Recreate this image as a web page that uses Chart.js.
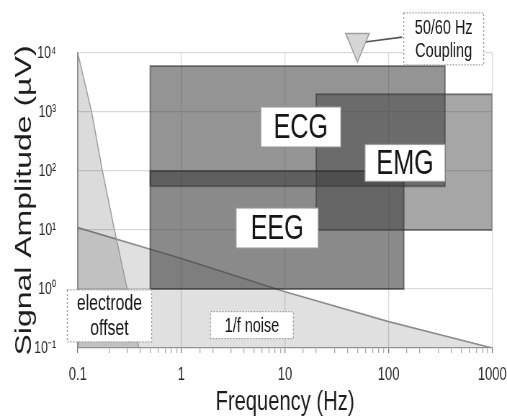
<!DOCTYPE html>
<html><head><meta charset="utf-8">
<script src="https://cdn.jsdelivr.net/npm/chart.js@4.4.1/dist/chart.umd.min.js"></script>
<style>
html,body{margin:0;padding:0;background:#fff;overflow:hidden;width:507px;height:416px;}
#wrap{position:absolute;left:0;top:0;width:704px;height:416px;transform:scaleX(0.72017);transform-origin:0 0;}
canvas{display:block;}
</style></head><body>
<div id="wrap"><canvas id="chart" width="704" height="416"></canvas></div>
<script>
// ---------- data ----------
const xTickLabels = ['0.1', '1', '10', '100', '1000'];
const yTickLabels = ['10⁻¹', '10⁰', '10¹', '10²', '10³', '10⁴'];

// signal bands: frequency range (Hz) and amplitude range (µV)
const ecgFreq = [0.5, 350];
const ecgAmp  = [55, 6000];
const emgFreq = [20, 1000];
const emgAmp  = [10, 2000];
const eegFreq = [0.5, 140];
const eegAmp  = [1, 100];

// electrode offset boundary
const offsetFreq = [0.1, 0.136, 0.173, 0.226, 0.30, 0.39];
const offsetAmp  = [10000, 1000, 100, 10, 1, 0.1];

// 1/f noise boundary
const noiseFreq = [0.1, 1, 10, 100, 1000];
const noiseAmp  = [11, 3.3, 0.9, 0.28, 0.1];

// 50/60 Hz coupling marker and its pointer
const couplingFreq = [50, 135];
const couplingAmp  = [14800, 18600];

// region labels (anchors in data units)
const labelTexts = [['ECG'], ['EMG'], ['EEG'], ['electrode', 'offset'], ['1/f noise'], ['50/60 Hz', 'Coupling']];
const labelFreq  = [14.2, 144, 8.4, 0.202, 4.8, 340];
const labelAmp   = [557, 137, 10.8, 0.35, 0.245, 17300];

// axis limits
const X_MIN = 0.1, X_MAX = 1000, Y_MIN = 0.1, Y_MAX = 10000;

// ---------- styles ----------
const FONT = "'Liberation Sans', Arial, sans-serif";
const labelStyle = [
  {size: 35, w: 111, h: 40, dash: [], border: 'rgba(150,150,150,0.8)', lh: 35},
  {size: 35, w: 111, h: 37, dash: [], border: 'rgba(150,150,150,0.8)', lh: 35},
  {size: 35, w: 114, h: 40, dash: [], border: 'rgba(150,150,150,0.8)', lh: 35},
  {size: 22, w: 117, h: 52, dash: [2, 2], border: '#9a9a9a', lh: 25},
  {size: 20, w: 115, h: 27, dash: [2, 2], border: '#9a9a9a', lh: 20},
  {size: 20, w: 111, h: 52, dash: [2, 2], border: '#9a9a9a', lh: 23}
];

const pts = (fs, as) => fs.map((f, i) => ({x: f, y: as[i]}));
const rect = (f, a) => [
  {x: f[0], y: a[0]}, {x: f[1], y: a[0]}, {x: f[1], y: a[1]}, {x: f[0], y: a[1]}, {x: f[0], y: a[0]}
];
const isMajor = v => { const e = Math.log10(v); return Math.abs(e - Math.round(e)) < 1e-6; };

const labelPlugin = {
  id: 'regionLabels',
  afterDatasetsDraw(chart) {
    const {ctx, scales: {x, y}} = chart;
    labelTexts.forEach((lines, i) => {
      const st = labelStyle[i];
      const cx = x.getPixelForValue(labelFreq[i]);
      const cy = y.getPixelForValue(labelAmp[i]);
      ctx.save();
      ctx.fillStyle = '#ffffff';
      ctx.fillRect(cx - st.w / 2, cy - st.h / 2, st.w, st.h);
      ctx.setLineDash(st.dash);
      ctx.strokeStyle = st.border;
      ctx.lineWidth = 1.3;
      ctx.strokeRect(cx - st.w / 2, cy - st.h / 2, st.w, st.h);
      ctx.setLineDash([]);
      ctx.fillStyle = '#161616';
      ctx.font = st.size + 'px ' + FONT;
      ctx.textAlign = 'center';
      ctx.textBaseline = 'middle';
      const n = lines.length;
      lines.forEach((t, j) => ctx.fillText(t, cx, cy + (j - (n - 1) / 2) * st.lh + 1));
      ctx.restore();
    });
  }
};

Chart.defaults.font.family = FONT;

new Chart(document.getElementById('chart'), {
  type: 'line',
  data: {
    datasets: [
      {label: '1/f noise', data: pts(noiseFreq, noiseAmp), fill: 'start',
       backgroundColor: 'rgba(0,0,0,0.12)', borderColor: '#8c8c8c', borderWidth: 1.6,
       pointRadius: 0, order: 7},
      {label: 'electrode offset', data: [...pts(offsetFreq, offsetAmp), {x: X_MIN, y: Y_MIN}], fill: 'shape',
       backgroundColor: 'rgba(0,0,0,0.14)', borderColor: '#9a9a9a', borderWidth: 1.4,
       pointRadius: 0, order: 6},
      {label: 'ECG', data: rect(ecgFreq, ecgAmp), fill: 'shape',
       backgroundColor: 'rgba(60,60,60,0.55)', borderColor: 'rgba(40,40,40,0.5)', borderWidth: 2,
       pointRadius: 0, order: 5},
      {label: 'EMG', data: rect(emgFreq, emgAmp), fill: 'shape',
       backgroundColor: 'rgba(60,60,60,0.46)', borderColor: 'rgba(40,40,40,0.5)', borderWidth: 2,
       pointRadius: 0, order: 4},
      {label: 'EEG', data: rect(eegFreq, eegAmp), fill: 'shape',
       backgroundColor: 'rgba(60,60,60,0.6)', borderColor: 'rgba(40,40,40,0.55)', borderWidth: 2,
       pointRadius: 0, order: 3},
      {label: 'pointer', data: pts(couplingFreq, couplingAmp), fill: false,
       borderColor: '#555', borderWidth: 1.6, pointRadius: [0, 4.5], pointStyle: 'triangle',
       rotation: 83, pointBackgroundColor: '#555', pointBorderColor: '#555', clip: false, order: 2},
      {label: '50/60 Hz', data: pts(couplingFreq.slice(0, 1), couplingAmp.slice(0, 1)), showLine: false,
       pointStyle: 'triangle', rotation: 180, pointRadius: 19,
       pointBackgroundColor: '#d6d6d6', pointBorderColor: '#a0a0a0', pointBorderWidth: 1.5,
       clip: false, order: 1},
      {label: 'dot', data: pts(couplingFreq.slice(0, 1), couplingAmp.slice(0, 1)), showLine: false,
       pointStyle: 'rect', pointRadius: 2.5, pointBackgroundColor: '#555', pointBorderColor: '#555',
       clip: false, order: 0}
    ]
  },
  options: {
    responsive: false,
    animation: false,
    devicePixelRatio: 1,
    events: [],
    layout: {padding: {left: 0, top: 53, right: 15.3, bottom: 0}},
    plugins: {legend: {display: false}, tooltip: {enabled: false}},
    scales: {
      x: {
        type: 'logarithmic', min: X_MIN, max: X_MAX,
        ticks: {
          autoSkip: false, maxRotation: 0, minRotation: 0, padding: 11, color: '#2a2a2a',
          font: {family: FONT, size: 18},
          callback: v => isMajor(v) ? (xTickLabels[Math.round(Math.log10(v)) + 1] ?? '') : ''
        },
        grid: {
          color: c => (c.tick && isMajor(c.tick.value)) ? '#dadada' : 'rgba(0,0,0,0)',
          tickColor: c => (c.tick && isMajor(c.tick.value)) ? '#777' : '#a8a8a8',
          tickLength: 5, lineWidth: 1.3
        },
        border: {color: '#a8a8a8', width: 1.3},
        title: {display: true, text: 'Frequency (Hz)', color: '#1e1e1e',
                font: {family: FONT, size: 28, lineHeight: 1}, padding: {top: 0, bottom: 0}},
        afterFit(s) { s.height = 68; s.paddingLeft = 0; s.paddingRight = 0; }
      },
      y: {
        type: 'logarithmic', min: Y_MIN, max: Y_MAX,
        ticks: {
          autoSkip: false, padding: 30, color: '#2a2a2a',
          font: {family: FONT, size: 17},
          callback: v => isMajor(v) ? (yTickLabels[Math.round(Math.log10(v)) + 1] ?? '') : ''
        },
        grid: {
          color: c => (c.tick && isMajor(c.tick.value)) ? '#dadada' : 'rgba(0,0,0,0)',
          drawTicks: false, lineWidth: 1.3
        },
        border: {color: '#8a8a8a', width: 1.6},
        title: {display: true, text: 'Signal Amplitude (µV)', color: '#1e1e1e',
                font: {family: FONT, size: 32, lineHeight: 1.2}, padding: {top: 15, bottom: 0}},
        afterFit(s) { s.width = 108; s.paddingTop = 0; s.paddingBottom = 0; }
      }
    }
  },
  plugins: [labelPlugin]
});
</script>
</body></html>
